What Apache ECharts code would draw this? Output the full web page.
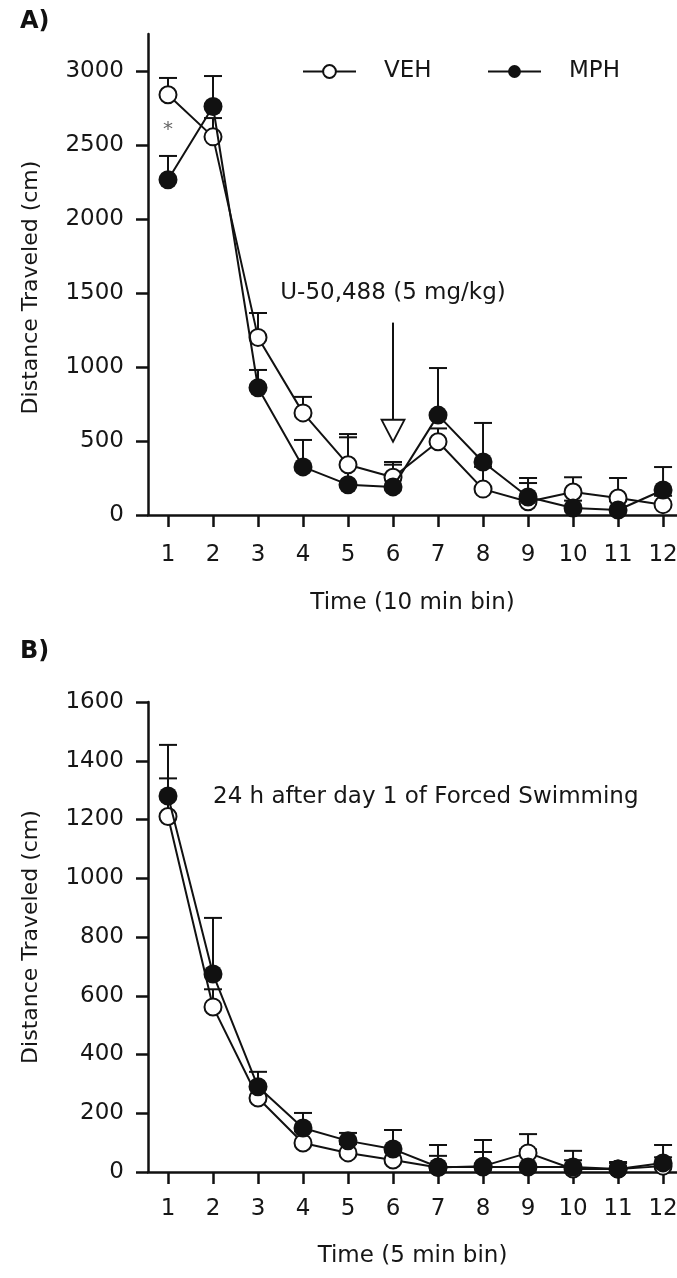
<!DOCTYPE html>
<html>
<head>
<meta charset="utf-8">
<script src="https://cdn.jsdelivr.net/npm/echarts@6/dist/echarts.min.js"></script>
<style>
html,body{margin:0;padding:0;background:#fff;}
#chart{width:677px;height:1278px;}
</style>
</head>
<body>
<div id="chart"></div>
<script>
// ---- data ----
const bins = [1,2,3,4,5,6,7,8,9,10,11,12];
const yTicksA = [0,500,1000,1500,2000,2500,3000];
const yTicksB = [0,200,400,600,800,1000,1200,1400,1600];

// Panel A (10 min bins)
const vehA    = [2840, 2555, 1200, 690, 340, 255, 495, 175,  90, 155, 115,  70];
const vehAErr = [ 113,  127,  165, 108, 207, 103,  90, 150, 126, 100, 135,  60];
const mphA    = [2265, 2760,  860, 325, 205, 190, 675, 358, 122,  47,  34, 169];
const mphAErr = [ 161,  206,  120, 182, 320, 150, 318, 264, 128,  50,  60, 155];

// Panel B (5 min bins)
const vehB    = [1210, 562, 252,  99,  65,  41,  15,  20,  65,  10,  10,  20];
const vehBErr = [ 130,  60,  40,  40,  30,  40,  40,  48,  64,  30,  20,  30];
const mphB    = [1280, 674, 290, 150, 106,  78,  17,  17,  17,  17,  10,  31];
const mphBErr = [ 174, 191,  51,  51,  27,  65,  75,  92,  60,  55,  24,  61];

// annotations (data coordinates)
const arrowA = [6, 1300, 495];       // x, from value, to value
const arrowTextA = [6, 1500];
const starA = [1, 2600];
const noteB = [2, 1277];

const FONT = 'DejaVu Sans';
const INK = '#111';
const TXT = '#161616';

const chart = echarts.init(document.getElementById('chart'), null, {renderer:'canvas'});

function pairs(xs, ys){ return xs.map((x,i)=>[x, ys[i]]); }
function triples(xs, ys, es){ return xs.map((x,i)=>[x, ys[i], es[i]]); }

function renderErr(params, api){
  const x = api.value(0), m = api.value(1), e = api.value(2);
  const p0 = api.coord([x, m]);
  const p1 = api.coord([x, m + e]);
  const hw = 9;
  return {type:'group', children:[
    {type:'line', shape:{x1:p0[0], y1:p0[1], x2:p1[0], y2:p1[1]}, style:{stroke:INK, lineWidth:2}},
    {type:'line', shape:{x1:p1[0]-hw, y1:p1[1], x2:p1[0]+hw, y2:p1[1]}, style:{stroke:INK, lineWidth:2}}
  ]};
}

function renderArrow(params, api){
  const x = api.value(0), v0 = api.value(1), v1 = api.value(2);
  const a = api.coord([x, v0]);
  const b = api.coord([x, v1]);
  const headLen = 22, hw = 11.5;
  return {type:'group', children:[
    {type:'line', shape:{x1:a[0], y1:a[1], x2:b[0], y2:b[1]-headLen}, style:{stroke:INK, lineWidth:2}},
    {type:'polygon', shape:{points:[[b[0]-hw, b[1]-headLen],[b[0]+hw, b[1]-headLen],[b[0], b[1]]]},
      style:{fill:'#fff', stroke:INK, lineWidth:1.8}}
  ]};
}

function textRenderer(text, opts){
  return function(params, api){
    const p = api.coord([api.value(0), api.value(1)]);
    return {type:'text', x:p[0], y:p[1], style:Object.assign({
      text:text, fill:TXT, fontSize:23, fontFamily:FONT,
      align:'center', verticalAlign:'middle'
    }, opts || {})};
  };
}

const axisLineStyle = {color:INK, width:2.5};

function xAxisCfg(gridIndex, name, nameGap, margin){
  return {
    type:'value', gridIndex, min:0.5556, max:12.31,
    name, nameLocation:'middle', nameGap,
    nameTextStyle:{fontSize:23, fontFamily:FONT, color:TXT},
    axisLine:{show:true, onZero:false, lineStyle:axisLineStyle},
    axisTick:{show:true, inside:false, length:12, lineStyle:{color:INK, width:2.5}, customValues:bins},
    axisLabel:{show:true, margin, fontSize:23, fontFamily:FONT, color:TXT, customValues:bins,
      formatter:(v)=>String(v)},
    splitLine:{show:false}
  };
}
function yAxisCfg(gridIndex, max, ticks, nameGap, namePad){
  return {
    type:'value', gridIndex, min:0, max,
    name:'Distance Traveled (cm)', nameLocation:'middle', nameGap, nameRotate:90,
    nameMoveOverlap:false,
    nameTextStyle:{fontSize:22, fontFamily:FONT, color:TXT, padding:namePad},
    axisLine:{show:true, lineStyle:axisLineStyle},
    axisTick:{show:true, inside:false, length:12, lineStyle:{color:INK, width:2.5}, customValues:ticks},
    axisLabel:{show:true, margin:24, fontSize:23, fontFamily:FONT, color:TXT, customValues:ticks,
      formatter:(v)=>String(v)},
    splitLine:{show:false}
  };
}

function lineSeries(name, data, xi, filled){
  return {
    type:'line', name, xAxisIndex:xi, yAxisIndex:xi, data,
    symbol:'circle', symbolSize: filled ? 19 : 17,
    showAllSymbol:true,
    lineStyle:{color:INK, width:2},
    itemStyle:{color: filled ? INK : '#fff', borderColor:INK, borderWidth: filled ? 0 : 2},
    emphasis:{disabled:true},
    z: filled ? 4 : 3,
    animation:false
  };
}
function errSeries(data, xi){
  return {type:'custom', xAxisIndex:xi, yAxisIndex:xi, data, renderItem:renderErr,
    encode:{x:0, y:1}, z:2, animation:false, silent:true};
}

const legendBase = {
  orient:'horizontal', top:60, itemWidth:53, itemHeight:16,
  textStyle:{fontSize:23, fontFamily:FONT, color:TXT, padding:[0,0,0,23]},
  selectedMode:false, padding:0
};

const option = {
  backgroundColor:'#fff',
  animation:false,
  title:[
    {text:'A)', left:20, top:10, padding:0, textStyle:{fontSize:24, fontWeight:'bold', fontFamily:FONT, color:'#111'}},
    {text:'B)', left:20, top:640, padding:0, textStyle:{fontSize:24, fontWeight:'bold', fontFamily:FONT, color:'#111'}}
  ],
  legend:[
    Object.assign({}, legendBase, {left:302, data:['VEH']}),
    Object.assign({}, legendBase, {left:487, data:['MPH']})
  ],
  grid:[
    {left:148, right:0, top:34, height:481, outerBoundsMode:'none', containLabel:false},
    {left:148, right:0, top:702, height:470, outerBoundsMode:'none', containLabel:false}
  ],
  xAxis:[
    xAxisCfg(0, 'Time (10 min bin)', 77, 29),
    xAxisCfg(1, 'Time (5 min bin)', 73, 26)
  ],
  yAxis:[
    yAxisCfg(0, 3250, yTicksA, 106, [0,26,0,0]),
    yAxisCfg(1, 1600, yTicksB, 106, [0,0,0,0])
  ],
  series:[
    errSeries(triples(bins, vehA, vehAErr), 0),
    errSeries(triples(bins, mphA, mphAErr), 0),
    lineSeries('VEH', pairs(bins, vehA), 0, false),
    lineSeries('MPH', pairs(bins, mphA), 0, true),
    errSeries(triples(bins, vehB, vehBErr), 1),
    errSeries(triples(bins, mphB, mphBErr), 1),
    lineSeries('MPH', pairs(bins, mphB), 1, true),
    lineSeries('VEH', pairs(bins, vehB), 1, false),
    {type:'custom', xAxisIndex:0, yAxisIndex:0, data:[arrowA], renderItem:renderArrow,
      encode:{x:0, y:1}, z:5, silent:true},
    {type:'custom', xAxisIndex:0, yAxisIndex:0, data:[arrowTextA],
      renderItem:textRenderer('U-50,488 (5 mg/kg)'), encode:{x:0, y:1}, z:5, silent:true},
    {type:'custom', xAxisIndex:0, yAxisIndex:0, data:[starA],
      renderItem:textRenderer('*', {fontSize:20, fill:'#666'}), encode:{x:0, y:1}, z:5, silent:true},
    {type:'custom', xAxisIndex:1, yAxisIndex:1, data:[noteB],
      renderItem:textRenderer('24 h after day 1 of Forced Swimming', {align:'left'}), encode:{x:0, y:1}, z:5, silent:true}
  ]
};
chart.setOption(option);
</script>
</body>
</html>
